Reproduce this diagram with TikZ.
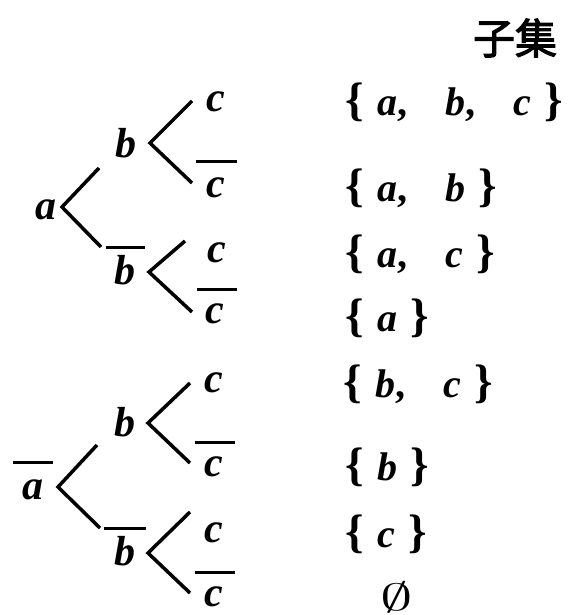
\documentclass[tikz,border=0pt]{standalone}
\usepackage{fontspec}
\setmainfont{Liberation Serif}
\newfontfamily\cjkfont{Noto Sans CJK SC}[FakeBold=2.5]
\usetikzlibrary{calc}
\tikzset{
  lt/.style={inner sep=0pt, font=\fontsize{42}{48}\selectfont\bfseries\itshape},
  setnode/.style={inner sep=0pt, anchor=west, font=\fontsize{40}{46}\selectfont\bfseries},
  br/.style={line width=3.5pt, line cap=butt},
  bar/.style={line width=3pt},
}
\newcommand\mysetlet[1]{\textit{#1}}
\newcommand\lb{{\fontsize{47}{50}\selectfont\{}}
\newcommand\rb{{\fontsize{47}{50}\selectfont\}}}
\begin{document}
\begin{tikzpicture}[x=1pt,y=-1pt]
\useasboundingbox (0,0) rectangle (567,615);
% title
\node[inner sep=0pt, font=\fontsize{42}{48}\selectfont\cjkfont] (title) at (515,38) {子集};
% ---------- tree 1 ----------
\node[lt] (a1) at (46,210) {a};
\coordinate (a1v) at (62,207);
\coordinate (a1u) at (99,168);
\coordinate (a1d) at (101,247);
\draw[br] (a1u) -- (a1v) -- (a1d);
\node[lt] (b1) at (126,143) {b};
\coordinate (b1v) at (150,143);
\coordinate (b1u) at (192,101);
\coordinate (b1d) at (192,183);
\draw[br] (b1u) -- (b1v) -- (b1d);
\node[lt] (c1) at (216,102) {c};
\node[lt] (c1n) at (216,188) {c};
\draw[bar] ([shift={(-20,-27)}]c1n.center) -- ([shift={(21,-27)}]c1n.center);
\node[lt] (b1n) at (125,270) {b};
\draw[bar] ([shift={(-19,-23)}]b1n.center) -- ([shift={(20,-23)}]b1n.center);
\coordinate (b2v) at (149,272);
\coordinate (b2u) at (185,241);
\coordinate (b2d) at (192,312);
\draw[br] (b2u) -- (b2v) -- (b2d);
\node[lt] (c2) at (217,253) {c};
\node[lt] (c2n) at (215,314) {c};
\draw[bar] ([shift={(-18,-25)}]c2n.center) -- ([shift={(22,-25)}]c2n.center);
% ---------- tree 2 ----------
\node[lt] (a2n) at (33,490) {a};
\draw[bar] ([shift={(-20,-28)}]a2n.center) -- ([shift={(20,-28)}]a2n.center);
\coordinate (a2v) at (58,487);
\coordinate (a2u) at (97,445);
\coordinate (a2d) at (100,528);
\draw[br] (a2u) -- (a2v) -- (a2d);
\node[lt] (b3) at (125,422) {b};
\coordinate (b3v) at (148,423);
\coordinate (b3u) at (190,383);
\coordinate (b3d) at (190,463);
\draw[br] (b3u) -- (b3v) -- (b3d);
\node[lt] (c3) at (214,383) {c};
\node[lt] (c3n) at (214,467) {c};
\draw[bar] ([shift={(-19,-25)}]c3n.center) -- ([shift={(21,-25)}]c3n.center);
\node[lt] (b4n) at (125,551) {b};
\draw[bar] ([shift={(-21,-23)}]b4n.center) -- ([shift={(21,-23)}]b4n.center);
\coordinate (b4v) at (148,553);
\coordinate (b4u) at (190,512);
\coordinate (b4d) at (190,593);
\draw[br] (b4u) -- (b4v) -- (b4d);
\node[lt] (c4) at (214,533) {c};
\node[lt] (c4n) at (214,597) {c};
\draw[bar] ([shift={(-19,-25)}]c4n.center) -- ([shift={(21,-25)}]c4n.center);
% ---------- subsets ----------
\node[setnode] (s1) at (345,102) {\lb\hspace{14pt}\mysetlet{a},\hspace{38pt}\mysetlet{b},\hspace{38pt}\mysetlet{c}\hspace{13pt}\rb};
\node[setnode] (s2) at (345,188) {\lb\hspace{14pt}\mysetlet{a},\hspace{38pt}\mysetlet{b}\hspace{13pt}\rb};
\node[setnode] (s3) at (345,254) {\lb\hspace{14pt}\mysetlet{a},\hspace{38pt}\mysetlet{c}\hspace{13pt}\rb};
\node[setnode] (s4) at (345,318) {\lb\hspace{14pt}\mysetlet{a}\hspace{13pt}\rb};
\node[setnode] (s5) at (343,384) {\lb\hspace{14pt}\mysetlet{b},\hspace{38pt}\mysetlet{c}\hspace{13pt}\rb};
\node[setnode] (s6) at (345,467) {\lb\hspace{14pt}\mysetlet{b}\hspace{13pt}\rb};
\node[setnode] (s7) at (345,534) {\lb\hspace{14pt}\mysetlet{c}\hspace{13pt}\rb};
\node[inner sep=0pt] (s8) at (397,597) {\scalebox{6.5}[3.8]{$\emptyset$}};
\end{tikzpicture}
\end{document}
